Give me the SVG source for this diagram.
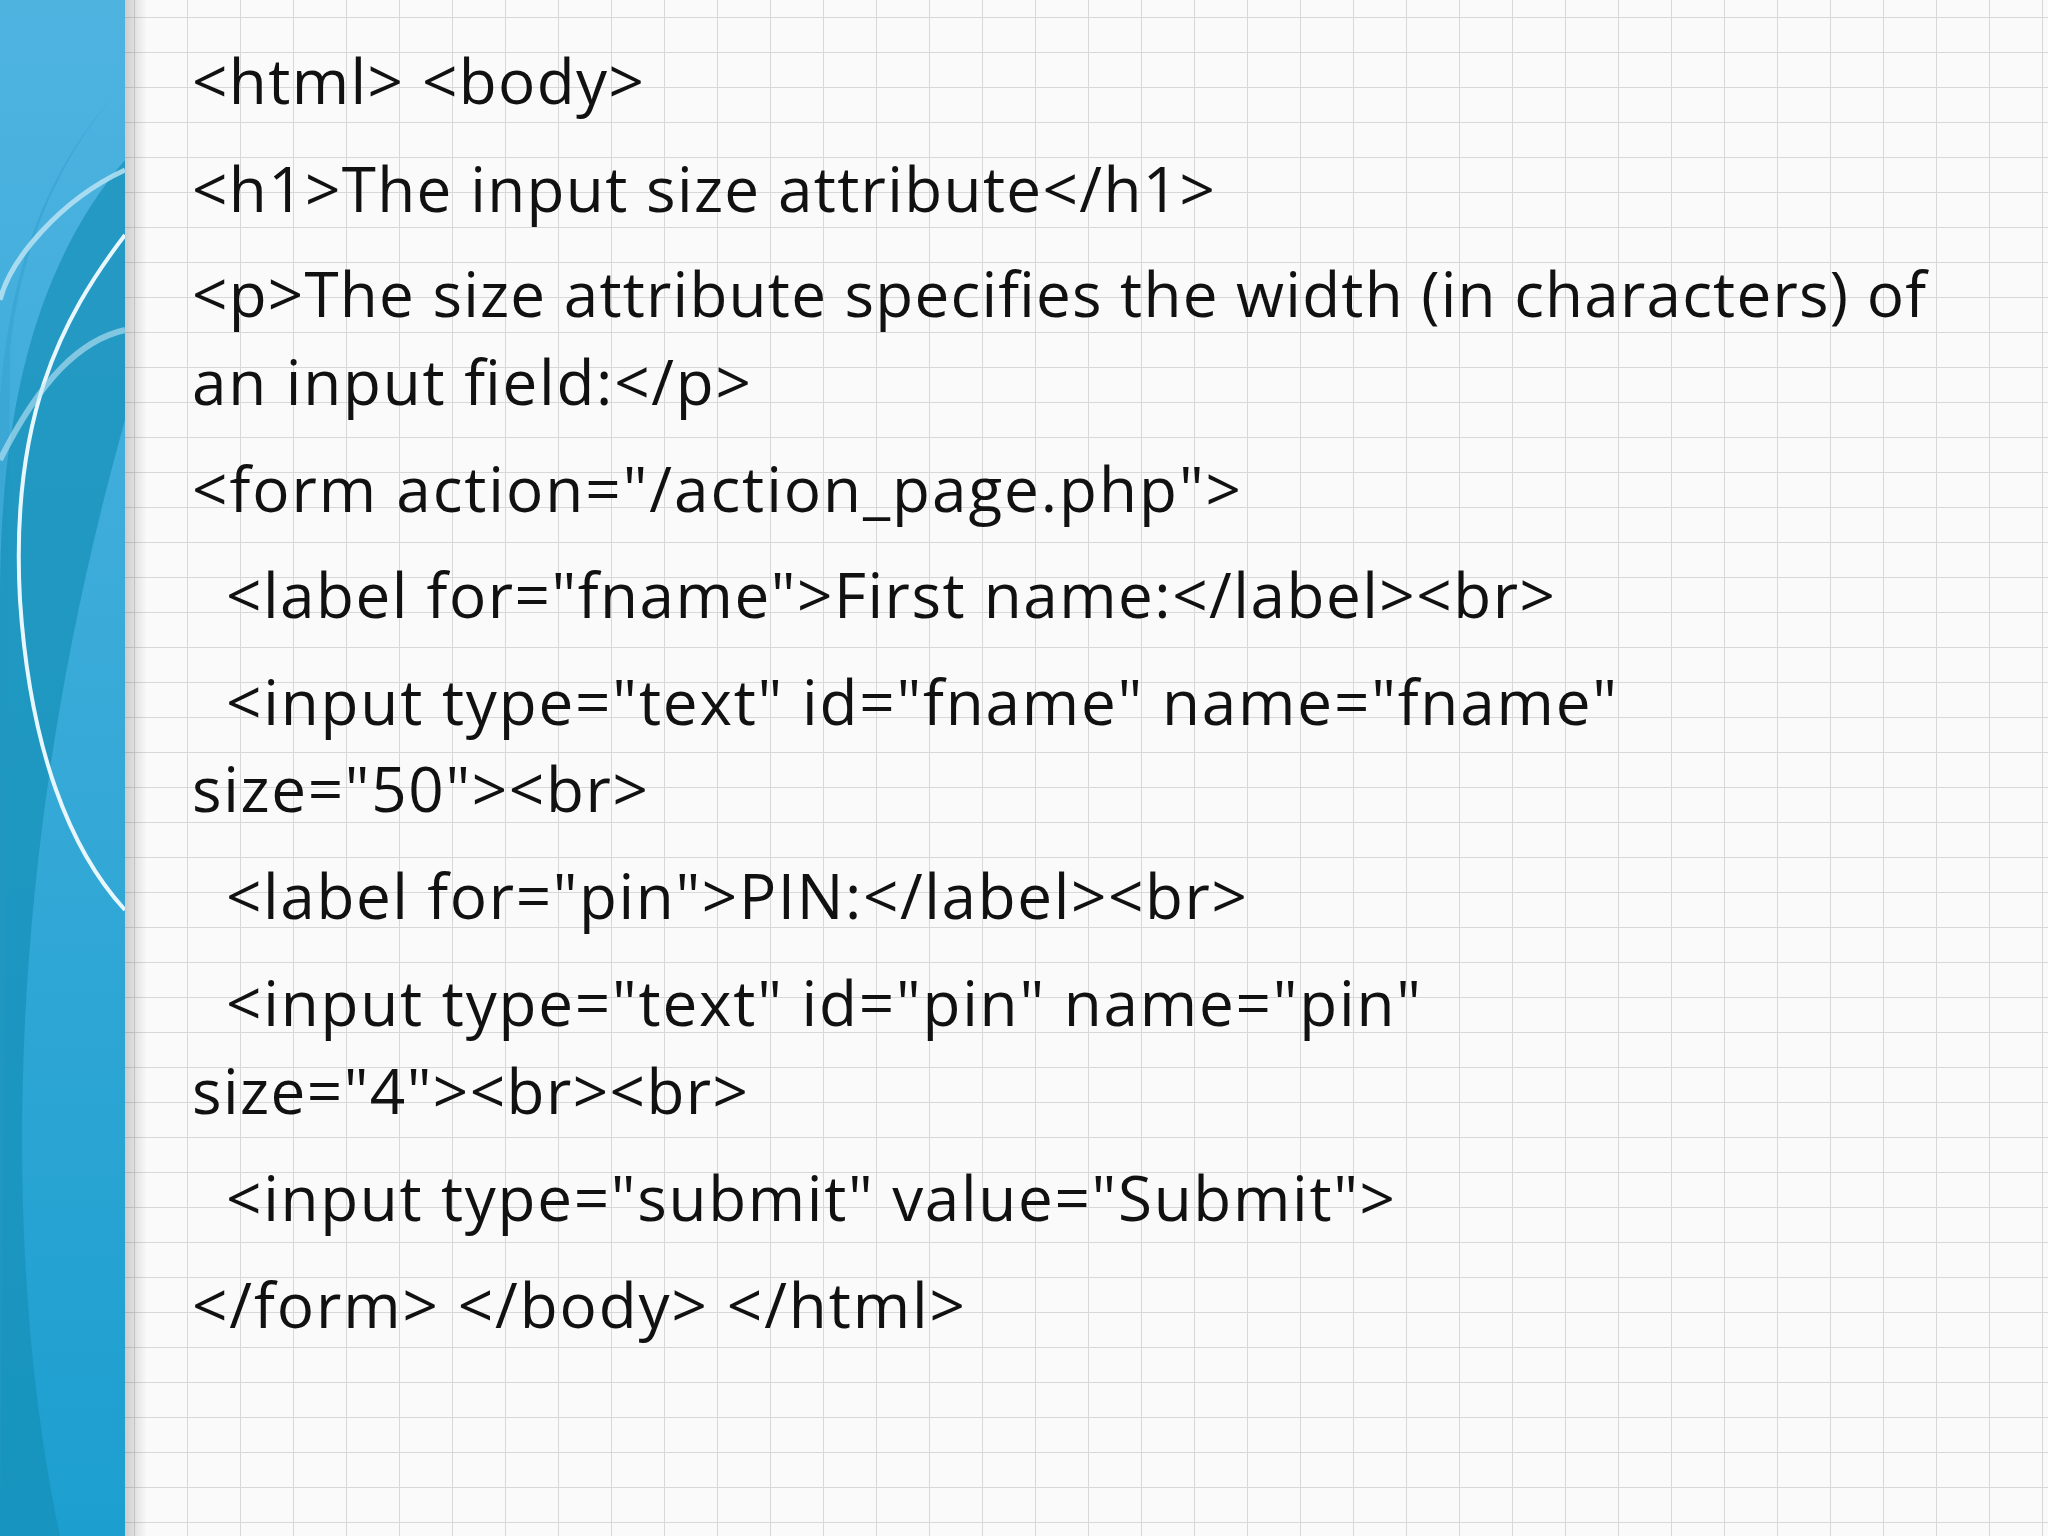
<svg xmlns="http://www.w3.org/2000/svg" width="2048" height="1536" viewBox="0 0 2048 1536">
<defs>
<pattern id="grid" width="53" height="35" patternUnits="userSpaceOnUse" x="28" y="17">
<path d="M0 0H53M0 0V35" fill="none" stroke="#d8d8d8" stroke-width="2"/>
</pattern>
<linearGradient id="bar" x1="0" y1="0" x2="0" y2="1">
<stop offset="0" stop-color="#4fb3e0"/><stop offset="1" stop-color="#1c9fcf"/>
</linearGradient>
<linearGradient id="shadow" x1="0" y1="0" x2="1" y2="0">
<stop offset="0" stop-color="#000" stop-opacity="0.18"/><stop offset="1" stop-color="#000" stop-opacity="0"/>
</linearGradient>
<style>text{font-family:"Open Sans","Liberation Sans",sans-serif;font-size:62px;fill:#111}</style>
</defs>
<rect width="2048" height="1536" fill="#fafafa"/>
<rect width="2048" height="1536" fill="url(#grid)"/>
<g id="sidebar">
<rect x="0" y="0" width="125" height="1536" fill="url(#bar)"/>
<path d="M125 85 C60 150 20 250 10 350 L0 1536 L0 400 C10 250 60 150 125 85Z" fill="#3aa7d4"/>
<path d="M125 160 C40 260 0 400 0 600 L0 1536 L60 1536 C10 1300 -10 900 125 420Z" fill="#1590b8" opacity="0.7"/>
<path d="M125 170 C60 200 10 260 0 300" fill="none" stroke="#bfe6f5" stroke-width="5" opacity="0.8"/>
<path d="M125 235 C60 320 10 420 20 600 C30 750 70 850 125 910" fill="none" stroke="#e8f7fd" stroke-width="4"/>
<path d="M0 460 C40 380 80 340 125 330" fill="none" stroke="#bfe6f5" stroke-width="6" opacity="0.6"/>
<rect x="125" y="0" width="22" height="1536" fill="url(#shadow)"/>
</g>
<g id="code">
<text x="192" y="104" textLength="452">&lt;html&gt; &lt;body&gt;</text>
<text x="192" y="212" textLength="1023">&lt;h1&gt;The input size attribute&lt;/h1&gt;</text>
<text x="192" y="317" textLength="1734">&lt;p&gt;The size attribute specifies the width (in characters) of</text>
<text x="192" y="405" textLength="559">an input field:&lt;/p&gt;</text>
<text x="192" y="512" textLength="1049">&lt;form action="/action_page.php"&gt;</text>
<text x="226" y="618" textLength="1329">&lt;label for="fname"&gt;First name:&lt;/label&gt;&lt;br&gt;</text>
<text x="226" y="725" textLength="1391">&lt;input type="text" id="fname" name="fname"</text>
<text x="192" y="812" textLength="456">size="50"&gt;&lt;br&gt;</text>
<text x="226" y="919" textLength="1021">&lt;label for="pin"&gt;PIN:&lt;/label&gt;&lt;br&gt;</text>
<text x="226" y="1026" textLength="1195">&lt;input type="text" id="pin" name="pin"</text>
<text x="192" y="1114" textLength="556">size="4"&gt;&lt;br&gt;&lt;br&gt;</text>
<text x="226" y="1221" textLength="1169">&lt;input type="submit" value="Submit"&gt;</text>
<text x="192" y="1328" textLength="773">&lt;/form&gt; &lt;/body&gt; &lt;/html&gt;</text>
</g>
</svg>
